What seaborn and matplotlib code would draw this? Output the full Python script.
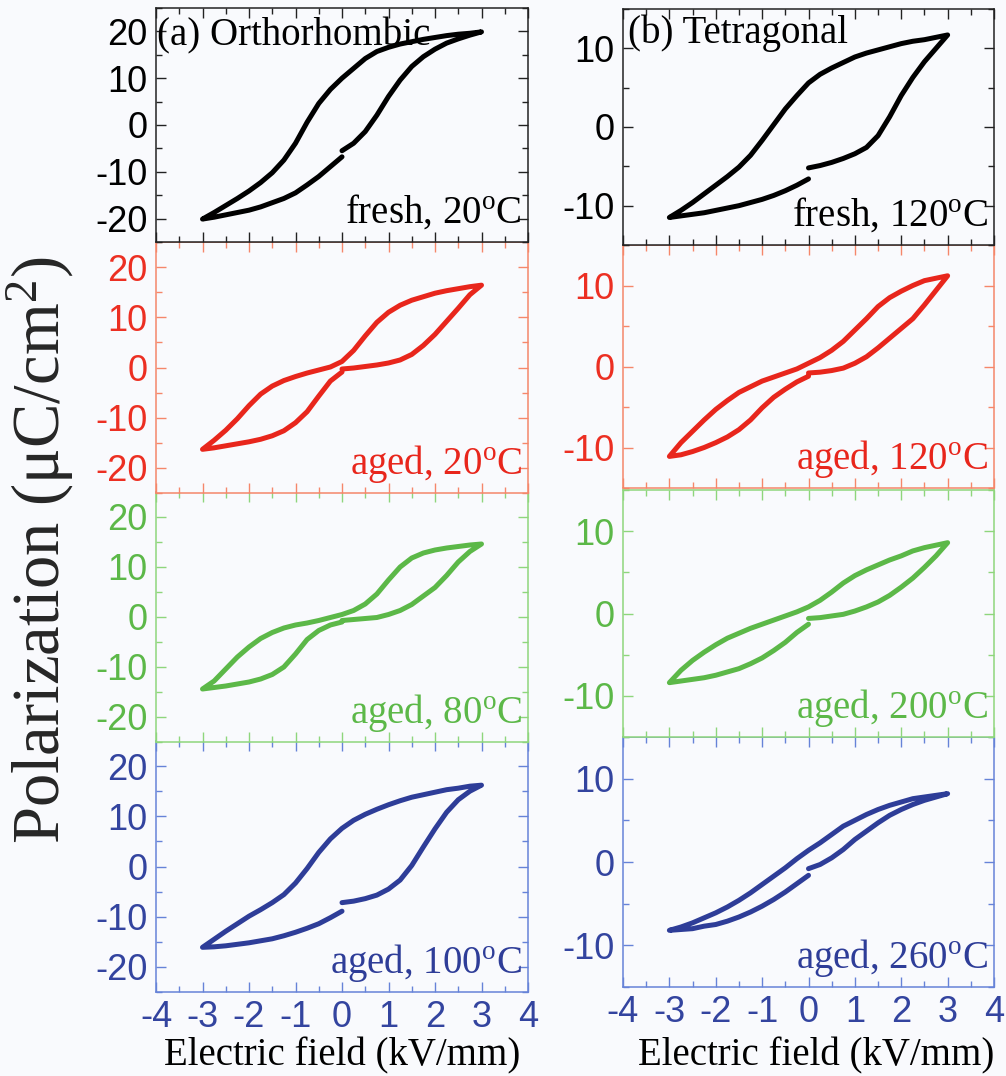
import matplotlib
matplotlib.use('Agg')
import matplotlib.pyplot as plt
from matplotlib.ticker import MultipleLocator
import seaborn as sns
import pandas as pd

# ==== 電場取樣點 (kV/mm) ====
e_rise = [0, 0.25, 0.5, 0.75, 1, 1.25, 1.5, 1.75, 2, 2.25, 2.5, 2.75, 3]
e_fall = [3, 2.75, 2.5, 2.25, 2, 1.75, 1.5, 1.25, 1, 0.75, 0.5, 0.25, 0,
          -0.25, -0.5, -0.75, -1, -1.25, -1.5, -1.75, -2, -2.25, -2.5, -2.75, -3]
e_ret = [-3, -2.75, -2.5, -2.25, -2, -1.75, -1.5, -1.25, -1, -0.75, -0.5, -0.25, 0]

# ==== (a) Orthorhombic 極化值 (uC/cm2) ====
a_fresh_rise = [-5.5, -3.9, -1.4, 2.1, 6.1, 9.6, 12.5, 14.6, 16.2, 17.5, 18.4, 19.2, 19.9]
a_fresh_fall = [19.9, 19.6, 19.4, 19.1, 18.7, 18.3, 17.8, 17.3, 16.6, 15.7, 14.2, 12.1, 10.0,
                7.6, 4.6, 0.6, -3.9, -7.5, -10.2, -12.3, -14.1, -15.7, -17.2, -18.7, -20.1]
a_fresh_ret = [-20.1, -19.7, -19.2, -18.7, -18.2, -17.5, -16.6, -15.7, -14.5, -12.8, -11.0, -8.9, -6.8]

a_aged20_rise = [-0.3, -0.1, 0.2, 0.5, 0.9, 1.5, 2.6, 4.4, 6.6, 9.2, 11.8, 14.5, 16.4]
a_aged20_fall = [16.4, 16.1, 15.7, 15.3, 14.8, 14.1, 13.4, 12.4, 11.0, 9.0, 6.3, 3.4, 1.2,
                 0.1, -0.5, -1.1, -1.8, -2.6, -3.7, -5.3, -7.6, -10.2, -12.5, -14.5, -16.3]
a_aged20_ret = [-16.3, -16.0, -15.6, -15.2, -14.8, -14.3, -13.6, -12.6, -11.0, -8.8, -5.7, -2.7, -0.9]

a_aged80_rise = [-0.7, -0.5, -0.3, -0.1, 0.5, 1.3, 2.5, 4.2, 5.9, 8.3, 11.0, 13.1, 14.6]
a_aged80_fall = [14.6, 14.4, 14.1, 13.8, 13.4, 12.8, 11.8, 10.0, 7.4, 4.6, 2.6, 1.3, 0.5,
                 -0.1, -0.7, -1.2, -1.6, -2.2, -3.1, -4.3, -6.0, -8.0, -10.4, -12.8, -14.4]
a_aged80_ret = [-14.4, -14.1, -13.8, -13.4, -13.0, -12.4, -11.5, -10.0, -7.4, -4.5, -2.7, -1.6, -1.0]

a_aged100_rise = [-7.2, -6.9, -6.4, -5.7, -4.5, -2.7, 0.2, 3.9, 7.5, 10.8, 13.3, 15.0, 16.2]
a_aged100_fall = [16.2, 16.0, 15.6, 15.3, 14.8, 14.3, 13.8, 13.1, 12.3, 11.4, 10.4, 9.2, 7.6,
                  5.5, 2.8, -0.4, -3.3, -5.6, -7.2, -8.6, -9.9, -11.4, -12.9, -14.5, -16.1]
a_aged100_ret = [-16.1, -16.0, -15.8, -15.5, -15.2, -14.8, -14.4, -13.8, -13.1, -12.3, -11.4, -10.2, -8.9]

# ==== (b) Tetragonal 極化值 (uC/cm2) ====
b_fresh_rise = [-5.2, -4.9, -4.5, -4.0, -3.4, -2.6, -1.1, 1.3, 4.0, 6.3, 8.3, 10.0, 11.7]
b_fresh_fall = [11.7, 11.4, 11.1, 10.9, 10.6, 10.2, 9.8, 9.4, 8.9, 8.2, 7.5, 6.7, 5.6,
                4.0, 2.3, 0.3, -1.7, -3.6, -5.1, -6.3, -7.4, -8.5, -9.6, -10.6, -11.5]
b_fresh_ret = [-11.5, -11.3, -11.1, -10.9, -10.6, -10.3, -10.0, -9.6, -9.2, -8.7, -8.1, -7.4, -6.6]

b_aged120_rise = [-0.8, -0.7, -0.5, -0.2, 0.4, 1.2, 2.3, 3.5, 4.7, 5.9, 7.6, 9.4, 11.2]
b_aged120_fall = [11.2, 10.9, 10.6, 10.0, 9.3, 8.5, 7.4, 5.9, 4.5, 3.1, 2.0, 1.1, 0.4,
                  -0.3, -0.8, -1.3, -1.8, -2.5, -3.2, -4.2, -5.3, -6.6, -8.0, -9.4, -11.1]
b_aged120_ret = [-11.1, -10.9, -10.5, -10.0, -9.4, -8.7, -7.8, -6.6, -5.1, -3.8, -2.8, -1.9, -1.2]

b_aged200_rise = [-0.6, -0.5, -0.3, -0.1, 0.3, 0.8, 1.4, 2.2, 3.2, 4.3, 5.6, 7.0, 8.6]
b_aged200_fall = [8.6, 8.3, 8.0, 7.6, 7.0, 6.5, 5.9, 5.3, 4.6, 3.7, 2.6, 1.6, 0.8,
                  0.2, -0.3, -0.8, -1.3, -1.8, -2.4, -3.0, -3.8, -4.7, -5.7, -6.9, -8.4]
b_aged200_ret = [-8.4, -8.2, -8.0, -7.8, -7.5, -7.1, -6.7, -6.1, -5.4, -4.5, -3.5, -2.3, -1.3]

b_aged260_rise = [-0.8, -0.3, 0.5, 1.5, 2.7, 3.7, 4.7, 5.6, 6.3, 6.9, 7.4, 7.8, 8.2]
b_aged260_fall = [8.2, 8.0, 7.8, 7.6, 7.2, 6.8, 6.3, 5.7, 5.0, 4.3, 3.3, 2.3, 1.4,
                  0.4, -0.7, -1.7, -2.7, -3.7, -4.6, -5.4, -6.1, -6.7, -7.3, -7.8, -8.2]
b_aged260_ret = [-8.2, -8.1, -8.0, -7.7, -7.5, -7.1, -6.6, -6.0, -5.3, -4.5, -3.6, -2.6, -1.6]

# 標籤文字
a_labels = ['fresh, 20', 'aged, 20', 'aged, 80', 'aged, 100']
b_labels = ['fresh, 120', 'aged, 120', 'aged, 200', 'aged, 260']
panel_titles = ['(a) Orthorhombic', '(b) Tetragonal']

# 每一列的顏色 (線條 / 軸框 / 刻度字)
line_colors = ['#000000', '#e8261c', '#5cb848', '#2e3d98']
spine_colors = ['#222222', '#f5876a', '#8ed67c', '#6683d8']
label_colors = ['#000000', '#ec2f22', '#5cb848', '#33449f']

BG = '#f9fafd'
W, H = 1006, 1076

sns.set_theme(style='ticks')
plt.rcParams.update({
    'font.family': ['Liberation Sans', 'DejaVu Sans'],
    'mathtext.fontset': 'custom',
    'mathtext.rm': 'Liberation Serif',
    'mathtext.it': 'Liberation Serif:italic',
    'axes.unicode_minus': False,
})

# 版面位置 (像素: 左, 上, 右, 下)
boxes_a = [(156, 8, 528, 242), (156, 242, 528, 493), (156, 492, 528, 742), (156, 741, 528, 992)]
boxes_b = [(623, 9, 994, 245), (623, 245, 994, 488), (623, 490, 994, 737), (623, 737, 994, 987)]

columns = [
    dict(boxes=boxes_a, ylim=(-25, 25), labels=a_labels, title=panel_titles[0], title_off=(1, -37),
         xlab_pos=(0.5, -0.18),
         loops=[(a_fresh_rise, a_fresh_fall, a_fresh_ret),
                (a_aged20_rise, a_aged20_fall, a_aged20_ret),
                (a_aged80_rise, a_aged80_fall, a_aged80_ret),
                (a_aged100_rise, a_aged100_fall, a_aged100_ret)]),
    dict(boxes=boxes_b, ylim=(-15, 15), labels=b_labels, title=panel_titles[1], title_off=(5, -34),
         xlab_pos=(0.52, -0.2),
         loops=[(b_fresh_rise, b_fresh_fall, b_fresh_ret),
                (b_aged120_rise, b_aged120_fall, b_aged120_ret),
                (b_aged200_rise, b_aged200_fall, b_aged200_ret),
                (b_aged260_rise, b_aged260_fall, b_aged260_ret)]),
]

fig = plt.figure(figsize=(W / 100, H / 100), dpi=100, facecolor=BG)

for col in columns:
    for row in range(4):
        x0, y0, x1, y1 = col['boxes'][row]
        ax = fig.add_axes([x0 / W, 1 - y1 / H, (x1 - x0) / W, (y1 - y0) / H])
        ax.set_zorder(10 - row)
        ax.set_facecolor(BG)

        rise, fall, ret = col['loops'][row]
        df = pd.DataFrame({'E': e_rise + e_fall + e_ret, 'P': rise + fall + ret})
        sns.lineplot(data=df, x='E', y='P', sort=False, estimator=None,
                     color=line_colors[row], lw=3.6, ax=ax,
                     solid_joinstyle='round', solid_capstyle='round')

        ax.set_xlim(-4, 4)
        ax.set_ylim(*col['ylim'])
        ax.xaxis.set_major_locator(MultipleLocator(1))
        ax.xaxis.set_minor_locator(MultipleLocator(0.5))
        ax.yaxis.set_major_locator(MultipleLocator(10))
        ax.yaxis.set_minor_locator(MultipleLocator(5))
        ax.tick_params(which='both', direction='in', top=True, right=True,
                       color=spine_colors[row], labelcolor=label_colors[row],
                       labelsize=26, width=1)
        ax.tick_params(which='major', length=7, pad=6)
        ax.tick_params(which='minor', length=4)
        for s in ax.spines.values():
            s.set_color(spine_colors[row])
            s.set_linewidth(1.1)
        ax.set_ylabel('')
        if row < 3:
            ax.tick_params(labelbottom=False)
            ax.set_xlabel('')
        else:
            ax.set_xlabel('Electric field (kV/mm)', family='Liberation Serif',
                          fontsize=28, color='black')
            ax.xaxis.set_label_coords(*col['xlab_pos'])

        ax.annotate(col['labels'][row] + r'$^{\mathrm{o}}$C', xy=(1, 0), xycoords='axes fraction',
                    xytext=(-6, 19), textcoords='offset pixels', ha='right', va='baseline',
                    family='Liberation Serif', fontsize=28, color=line_colors[row])
        if row == 0:
            ax.annotate(col['title'], xy=(0, 1), xycoords='axes fraction',
                        xytext=col['title_off'], textcoords='offset pixels', ha='left',
                        va='baseline', family='Liberation Serif', fontsize=28, color='black')

fig.text(40 / W, 1 - 550 / H, r'Polarization ($\mathrm{\mu}$C/cm$^{2}$)', rotation=90,
         ha='center', va='center', family='Liberation Serif', fontsize=48)

fig.savefig('out.png', dpi=100, facecolor=BG)
